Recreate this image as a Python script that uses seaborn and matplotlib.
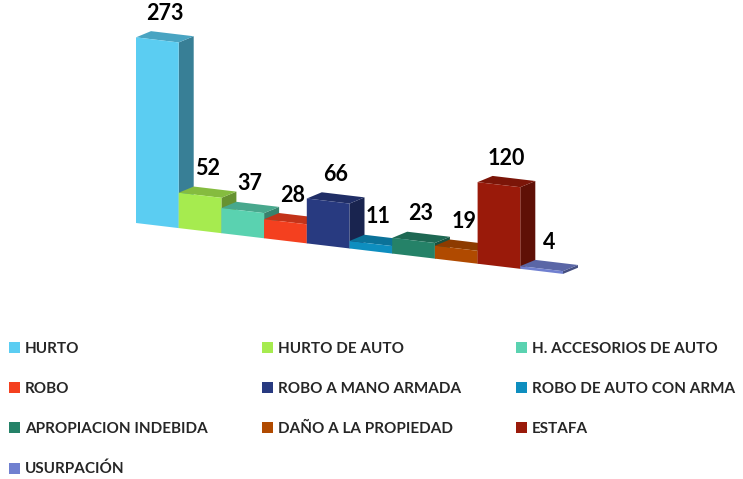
import matplotlib
matplotlib.use("Agg")
import matplotlib.pyplot as plt
import matplotlib.transforms as mtransforms
from matplotlib.patches import Polygon, Patch
import matplotlib.colors as mcolors
import seaborn as sns
import pandas as pd

categories = ["HURTO", "HURTO DE AUTO", "H. ACCESORIOS DE AUTO", "ROBO",
              "ROBO A MANO ARMADA", "ROBO DE AUTO CON ARMA",
              "APROPIACION INDEBIDA", "DAÑO A LA PROPIEDAD", "ESTAFA",
              "USURPACIÓN"]
values = [273, 52, 37, 28, 66, 11, 23, 19, 120, 4]
colors = ["#5BCDF2", "#A6EB4F", "#5AD2B0", "#F4401F", "#283A80",
          "#0E8EBF", "#258268", "#B04A00", "#9A1A0A", "#7080D0"]

sns.set_theme(style="white")
plt.rcParams["font.family"] = ["Lato", "DejaVu Sans"]

W, H = 743, 479
fig = plt.figure(figsize=(W / 100, H / 100), dpi=100)
ax_left, ax_bottom, ax_w, ax_h = 136, 256, 427, 204
ax = fig.add_axes([ax_left / W, ax_bottom / H, ax_w / W, ax_h / H])

df = pd.DataFrame({"cat": categories, "val": values})
sns.barplot(data=df, x="cat", y="val", hue="cat", palette=colors,
            width=1.0, saturation=1, legend=False, ax=ax)
ax.set_xlim(-0.5, len(values) - 0.5)
ax.set_ylim(0, 300)
ax.axis("off")

# perspective-like skew: baseline slopes down to the right
pivot_x, pivot_y = ax_left, ax_bottom
skew = (mtransforms.Affine2D().translate(-pivot_x, -pivot_y)
        .skew_deg(0, -6.8).translate(pivot_x, pivot_y))
trans = ax.transData + skew

px_x = ax_w / len(values)
px_y = ax_h / 300
dx = 15 / px_x
dy = 8 / px_y

def shade(c, f):
    r, g, b = mcolors.to_rgb(c)
    return (r * f, g * f, b * f)

for i, p in enumerate(ax.patches):
    p.set_transform(trans)
    p.set_clip_on(False)
    p.set_edgecolor("none")
    p.set_zorder(10 + 3 * i + 2)
    c = p.get_facecolor()
    xl = p.get_x()
    xr = xl + p.get_width()
    h = p.get_height()
    side = Polygon([(xr, 0), (xr, h), (xr + dx, h + dy), (xr + dx, dy)],
                   closed=True, facecolor=shade(c, 0.62), edgecolor="none",
                   transform=trans, zorder=10 + 3 * i, clip_on=False)
    top = Polygon([(xl, h), (xr, h), (xr + dx, h + dy), (xl + dx, h + dy)],
                  closed=True, facecolor=shade(c, 0.8), edgecolor="none",
                  transform=trans, zorder=10 + 3 * i + 1, clip_on=False)
    ax.add_patch(side)
    ax.add_patch(top)
    ax.annotate(f"{values[i]}", xy=(xl + p.get_width() / 2 + dx / 2, h + dy),
                xycoords=trans, xytext=(0, 9), textcoords="offset pixels",
                ha="center", va="bottom", fontsize=15.5, fontweight="bold",
                color="black", annotation_clip=False, zorder=100)

order = [0, 3, 6, 9, 1, 4, 7, 2, 5, 8]
handles = [Patch(facecolor=colors[k], edgecolor="none", label=categories[k])
           for k in order]
fig.legend(handles=handles, loc="upper left", bbox_to_anchor=(9 / W, 1 - 342 / H),
           ncol=3, frameon=False, prop={"weight": "bold", "size": 11.0},
           handlelength=0.72, handleheight=0.72, handletextpad=0.3,
           labelspacing=1.7, columnspacing=3.6, borderpad=0, borderaxespad=0)

fig.savefig("out.png", dpi=100)
